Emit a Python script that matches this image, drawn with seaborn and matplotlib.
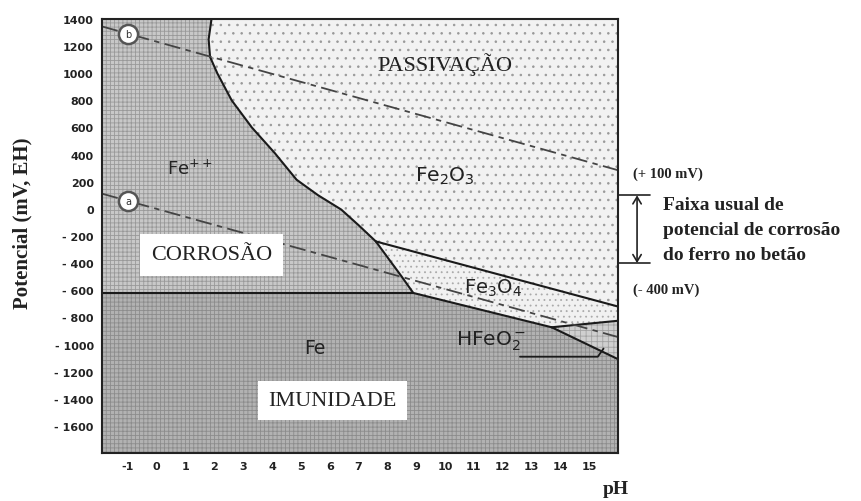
import matplotlib
matplotlib.use("Agg")
import matplotlib.pyplot as plt
import matplotlib.transforms as mtransforms
import seaborn as sns

# --- data (pH, potential in mV) ---
x_lo, x_hi = -1.9, 16.0
y_lo, y_hi = -1800, 1400

# Fe++ / Fe2O3 boundary
fe2o3_fe_ph = [1.9, 1.8, 1.85, 2.1, 2.6, 3.3, 4.1, 4.85, 5.6, 6.4, 7.0, 7.6]
fe2o3_fe_mv = [1400, 1250, 1120, 1000, 800, 600, 410, 215, 100, -5, -120, -240]
# Fe++ / Fe3O4 boundary
fe3o4_fe_ph = [7.6, 8.5, 8.9]
fe3o4_fe_mv = [-240, -500, -620]
# Fe2O3 / Fe3O4 boundary
fe2o3_fe3o4_ph = [7.6, 16.0]
fe2o3_fe3o4_mv = [-240, -720]
# Fe / Fe3O4 boundary
fe_fe3o4_ph = [8.9, 13.7]
fe_fe3o4_mv = [-620, -873]
# Fe / HFeO2- boundary
fe_hfeo2_ph = [13.7, 16.0]
fe_hfeo2_mv = [-873, -1108]
# Fe3O4 / HFeO2- boundary
fe3o4_hfeo2_ph = [13.7, 16.0]
fe3o4_hfeo2_mv = [-873, -825]
# Fe / Fe++ boundary
imm_ph = [x_lo, 8.9]
imm_mv = [-620, -620]
# water stability lines a and b
line_a_ph = [-1.9, 16.0]
line_a_mv = [112, -945]
line_b_ph = [-1.9, 16.0]
line_b_mv = [1345, 285]

x_ticks = list(range(-1, 16))
y_ticks = [1400, 1200, 1000, 800, 600, 400, 200, 0, -200, -400, -600,
           -800, -1000, -1200, -1400, -1600]
y_tick_labels = ["1400", "1200", "1000", "800", "600", "400", "200", "0",
                 "- 200", "- 400", "- 600", "- 800", "- 1000", "- 1200",
                 "- 1400", "- 1600"]

band_top, band_bottom = 100, -400

sns.set_style("white")
plt.rcParams["font.family"] = ["DejaVu Sans"]
plt.rcParams["mathtext.default"] = "regular"
plt.rcParams["hatch.linewidth"] = 0.6
serif = ["Liberation Serif", "DejaVu Serif"]

fig = plt.figure(figsize=(8.62, 5.02), dpi=100)
ax = fig.add_axes([0.1183, 0.0956, 0.5986, 0.8646])

# regions
corr_x = [x_lo] + fe2o3_fe_ph + fe3o4_fe_ph[1:] + [x_lo]
corr_y = [y_hi] + fe2o3_fe_mv + fe3o4_fe_mv[1:] + [imm_mv[0]]
ax.fill(corr_x, corr_y, facecolor="#c8c8c8", edgecolor="#999999",
        hatch="++++", linewidth=0)

pass_x = fe2o3_fe_ph + [fe2o3_fe3o4_ph[1], x_hi]
pass_y = fe2o3_fe_mv + [fe2o3_fe3o4_mv[1], y_hi]
ax.fill(pass_x, pass_y, facecolor="#f2f2f2", edgecolor="#999999",
        hatch="..", linewidth=0)

mag_x = fe3o4_fe_ph + fe_fe3o4_ph[1:] + fe3o4_hfeo2_ph[1:] + fe2o3_fe3o4_ph[1:]
mag_y = fe3o4_fe_mv + fe_fe3o4_mv[1:] + fe3o4_hfeo2_mv[1:] + fe2o3_fe3o4_mv[1:]
ax.fill(mag_x, mag_y, facecolor="#f1f1f1", edgecolor="#aaaaaa",
        hatch="...", linewidth=0)

hfe_x = fe_hfeo2_ph + fe3o4_hfeo2_ph[1:]
hfe_y = fe_hfeo2_mv + fe3o4_hfeo2_mv[1:]
ax.fill(hfe_x, hfe_y, facecolor="#cfcfcf", edgecolor="#a2a2a2",
        hatch="+++", linewidth=0)

imm_x = imm_ph + fe_fe3o4_ph[1:] + fe_hfeo2_ph[1:] + [x_hi, x_lo]
imm_y = imm_mv + fe_fe3o4_mv[1:] + fe_hfeo2_mv[1:] + [y_lo, y_lo]
ax.fill(imm_x, imm_y, facecolor="#b2b2b2", edgecolor="#8c8c8c",
        hatch="++++", linewidth=0)

# boundaries
for px, py in [(fe2o3_fe_ph, fe2o3_fe_mv), (fe3o4_fe_ph, fe3o4_fe_mv),
               (fe2o3_fe3o4_ph, fe2o3_fe3o4_mv), (fe_fe3o4_ph, fe_fe3o4_mv),
               (fe_hfeo2_ph, fe_hfeo2_mv), (fe3o4_hfeo2_ph, fe3o4_hfeo2_mv),
               (imm_ph, imm_mv)]:
    sns.lineplot(x=px, y=py, sort=False, estimator=None, color="#1a1a1a",
                 linewidth=1.5, ax=ax)

for px, py in [(line_a_ph, line_a_mv), (line_b_ph, line_b_mv)]:
    sns.lineplot(x=px, y=py, sort=False, estimator=None, color="#444444",
                 linewidth=1.3, dashes=False, ax=ax,
                 linestyle=(0, (9, 3, 3, 3)))

# circles a, b
for lab, mv in [("b", 1290), ("a", 60)]:
    ax.scatter([-1], [mv], s=190, facecolor="white", edgecolor="#555555",
               linewidth=1.8, zorder=5)
    ax.text(-1, mv, lab, ha="center", va="center", fontsize=7,
            color="#333333", zorder=6)

# HFeO2- leader
sns.lineplot(x=[12.6, 15.3, 15.5], y=[-1090, -1090, -1030], sort=False,
             estimator=None, color="#1a1a1a", linewidth=1.3, ax=ax)

# labels
ax.text(10.0, 1075, "PASSIVAÇÃO", family=serif, fontsize=16,
        ha="center", va="center", color="#222222")
ax.text(10.0, 250, "Fe$_2$O$_3$", fontsize=14.5, ha="center", va="center",
        color="#222222")
ax.text(1.15, 300, "Fe$^{++}$", fontsize=13, ha="center", va="center",
        color="#222222")
ax.text(11.65, -575, "Fe$_3$O$_4$", fontsize=14, ha="center", va="center",
        color="#222222")
ax.text(5.5, -1020, "Fe", fontsize=13.5, ha="center", va="center",
        color="#222222")
ax.text(11.6, -965, "HFeO$_2^-$", fontsize=14.5, ha="center", va="center",
        color="#222222")
ax.text(1.9, -340, "CORROSÃO", family=serif, fontsize=16,
        ha="center", va="center", color="#222222",
        bbox=dict(boxstyle="square,pad=0.5", facecolor="white",
                  edgecolor="none"))
ax.text(6.1, -1410, "IMUNIDADE", family=serif, fontsize=16,
        ha="center", va="center", color="#222222",
        bbox=dict(boxstyle="square,pad=0.45", facecolor="white",
                  edgecolor="none"))

# axes
ax.set_xlim(x_lo, x_hi)
ax.set_ylim(y_lo, y_hi)
ax.set_xticks(x_ticks)
ax.set_xticklabels([str(t) for t in x_ticks], fontweight="bold")
ax.set_yticks(y_ticks)
ax.set_yticklabels(y_tick_labels, fontweight="bold")
ax.tick_params(direction="in", length=4, width=1.2, labelsize=8,
               colors="#222222", pad=6)
for sp in ax.spines.values():
    sp.set_visible(True)
    sp.set_color("#222222")
    sp.set_linewidth(1.5)
ax.set_xlabel("")
ax.set_ylabel("")

fig.text(22 / 862, 1 - 223 / 502, "Potencial (mV, EH)", family=serif,
         fontsize=15, fontweight="bold", rotation=90, ha="center",
         va="center", color="#222222")
fig.text(616 / 862, 1 - 490 / 502, "pH", family=serif, fontsize=14,
         fontweight="bold", ha="center", va="center", color="#222222")

# right-hand annotation
tr = mtransforms.blended_transform_factory(ax.transAxes, ax.transData)
for mv in [band_top, band_bottom]:
    ax.plot([1.0, 1.062], [mv, mv], color="#222222", linewidth=1.2,
            transform=tr, clip_on=False)
ax.annotate("", xy=(1.037, band_top), xytext=(1.037, band_bottom),
            xycoords=tr, textcoords=tr,
            arrowprops=dict(arrowstyle="<->,head_length=0.5,head_width=0.3",
                            color="#222222", linewidth=1.2,
                            shrinkA=0, shrinkB=0))
ax.text(1.03, 265, "(+ 100 mV)", transform=tr, family=serif, fontsize=10.5,
        fontweight="bold", ha="left", va="center", color="#222222")
ax.text(1.03, -595, "(- 400 mV)", transform=tr, family=serif, fontsize=10.5,
        fontweight="bold", ha="left", va="center", color="#222222")
ax.text(1.087, -150, "Faixa usual de\npotencial de corrosão\ndo ferro no betão",
        transform=tr, family=serif, fontsize=14, fontweight="bold",
        ha="left", va="center", linespacing=1.6, color="#222222")

fig.savefig("out.png", dpi=100)
